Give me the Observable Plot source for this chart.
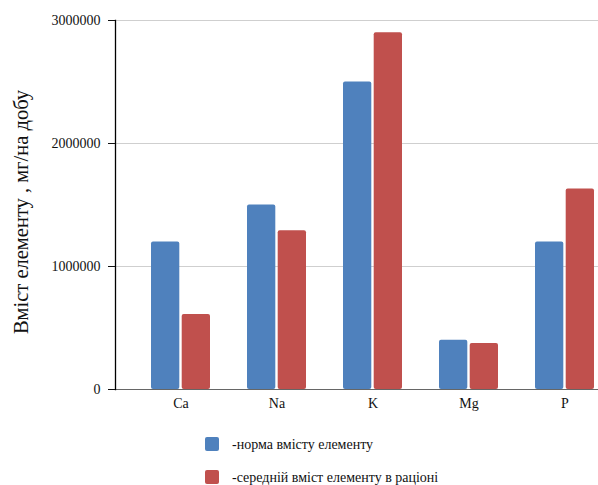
<!DOCTYPE html>
<html>
<head>
<meta charset="utf-8">
<script src="https://cdn.jsdelivr.net/npm/d3@7"></script>
<script src="https://cdn.jsdelivr.net/npm/@observablehq/plot@0.6"></script>
<style>
  html, body { margin: 0; padding: 0; background: #fff; }
  #chart { width: 598px; }
  #chart svg { display: block; }
  #chart svg text { font-family: "Liberation Serif", "Times New Roman", "DejaVu Serif", serif; }
</style>
</head>
<body>
<div id="chart"></div>
<script>
// Daily content of elements, mg per day
const elements = ["Ca", "Na", "K", "Mg", "P"];
const normValues = [1200000, 1500000, 2500000, 400000, 1200000];
const dietValues = [610000, 1290000, 2900000, 375000, 1630000];
const yTicks = [0, 1000000, 2000000, 3000000];
const seriesNames = ["-норма вмісту елементу", "-середній вміст елементу в раціоні"];
const seriesColors = ["#4F81BD", "#C0504D"];
const yLabel = "Вміст елементу , мг/на добу";

const normRows = elements.map((e, i) => ({element: e, value: normValues[i]}));
const dietRows = elements.map((e, i) => ({element: e, value: dietValues[i]}));

const serif = "'Liberation Serif', 'Times New Roman', 'DejaVu Serif', serif";

const plot = Plot.plot({
  width: 598,
  height: 420,
  marginLeft: 115,
  marginRight: 0,
  marginTop: 20,
  marginBottom: 31,
  style: {fontFamily: serif, fontSize: "13px", color: "#111", background: "#fff"},
  x: {domain: elements, range: [150, 595], paddingInner: 0.385, paddingOuter: 0, label: null},
  y: {domain: [0, 3000000], label: null},
  marks: [
    Plot.gridY({ticks: yTicks.slice(1), stroke: "#cfcfcf", strokeOpacity: 1}),
    Plot.barY(normRows, {x: "element", y: "value", fill: seriesColors[0], insetRight: 30.7, rx: 2}),
    Plot.barY(dietRows, {x: "element", y: "value", fill: seriesColors[1], insetLeft: 30.7, rx: 2}),
    Plot.ruleY([0], {stroke: "#666", strokeWidth: 1.2}),
    Plot.frame({anchor: "left", stroke: "#000", strokeWidth: 1.3}),
    Plot.axisY({
      ticks: yTicks,
      tickFormat: d3.format("d"),
      tickSize: 7,
      tickPadding: 8,
      fontSize: 14,
      fontVariant: "normal",
      label: yLabel,
      labelAnchor: "center",
      labelOffset: 102,
      labelArrow: false
    }),
    Plot.axisX({tickSize: 0, tickPadding: 9, fontSize: 14, label: null})
  ]
});

// enlarge the rotated y-axis title and nudge it down a little
plot.querySelectorAll("g[aria-label='y-axis label'] text").forEach(t => {
  t.setAttribute("font-size", "20.5");
  t.setAttribute("dx", "-7");
});

document.getElementById("chart").appendChild(plot);

// legend below the chart, drawn as its own small svg
const legend = d3.create("svg")
  .attr("width", 598)
  .attr("height", 65)
  .attr("font-family", serif)
  .attr("font-size", 14);

const rows = legend.selectAll("g")
  .data(seriesNames)
  .join("g")
  .attr("transform", (d, i) => `translate(205, ${17 + i * 33})`);

rows.append("rect")
  .attr("width", 14)
  .attr("height", 14)
  .attr("rx", 2)
  .attr("fill", (d, i) => seriesColors[i]);

rows.append("text")
  .attr("x", 27)
  .attr("y", 12)
  .attr("fill", "#111")
  .text(d => d);

document.getElementById("chart").appendChild(legend.node());
</script>
</body>
</html>
